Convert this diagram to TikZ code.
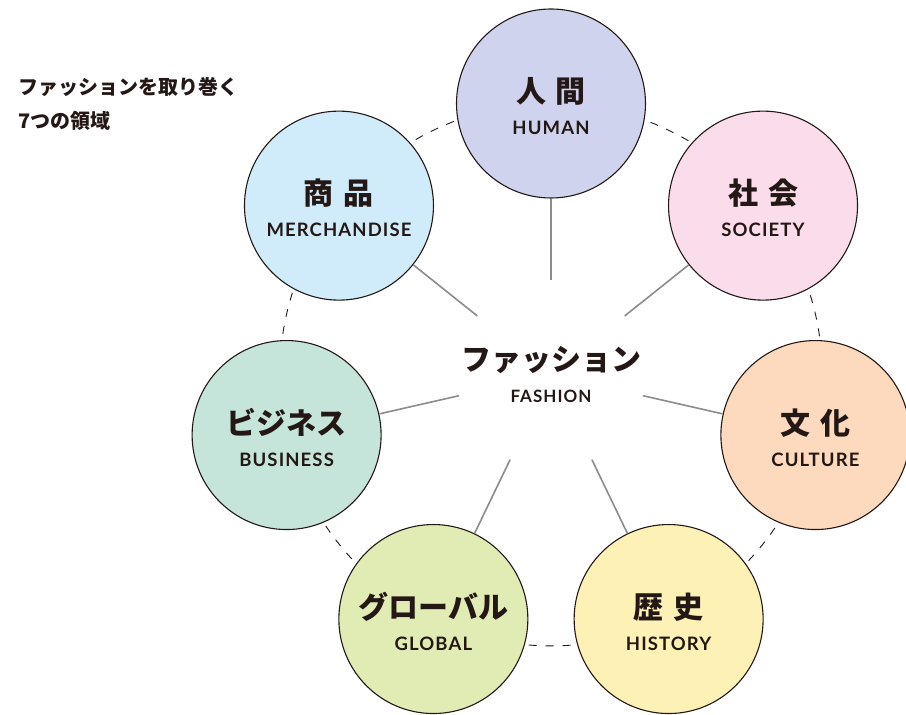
\documentclass[tikz,border=0pt]{standalone}
\usepackage{fontspec}
\newfontfamily\jpfont{Noto Sans CJK JP}
\newfontfamily\enfont{Lato}[LetterSpace=6]
\usetikzlibrary{backgrounds}

\definecolor{ink}{HTML}{231815}
\definecolor{spokegray}{HTML}{8C8C8C}
\definecolor{humanfill}{HTML}{D0D3ED}
\definecolor{societyfill}{HTML}{FBDCEA}
\definecolor{culturefill}{HTML}{FDD9BD}
\definecolor{historyfill}{HTML}{FEF1B6}
\definecolor{globalfill}{HTML}{E1ECB4}
\definecolor{businessfill}{HTML}{C6E5DA}
\definecolor{merchfill}{HTML}{D0EBFA}

\newcommand{\jptext}[1]{{\jpfont\bfseries\fontsize{30}{32}\selectfont\rule{0pt}{30.5pt}#1}}
\newcommand{\entext}[1]{{\enfont\bfseries\fontsize{18.5}{32}\selectfont #1}}

\tikzset{
  fieldcircle/.style={circle, draw=ink, line width=1.1pt, minimum size=189pt,
    inner sep=0pt, align=center, text=ink, font=\fontsize{18.5}{32}\selectfont},
  spoke/.style={draw=spokegray, line width=1.6pt},
  ring/.style={draw=ink, line width=0.9pt, dash pattern=on 8pt off 9pt},
}

\begin{document}
\begin{tikzpicture}[x=1pt, y=1pt]
    \useasboundingbox (0, 0) rectangle (906, 715);

    % Title in the corner
    \node[anchor=north west, inner sep=0pt, align=left, text=ink,
          font=\jpfont\bfseries\fontsize{20}{34.5}\selectfont] (title) at (18, 638)
        {ファッションを取り巻く\\7つの領域};

    \begin{scope}[shift={(551, 340.3)}]
        % Centre: fashion
        \node[circle, minimum size=186pt, inner sep=0pt, align=center, text=ink,
              font=\fontsize{17}{31.5}\selectfont] (fashion) at (0, 0)
            {{\jpfont\bfseries\fontsize{30}{31.5}\selectfont ファッション}\\
             {\enfont\bfseries\fontsize{17}{31.5}\selectfont FASHION}};

        % The seven fields round the ring
        \node[fieldcircle, fill=humanfill] (human) at (90:271.2)
            {\jptext{人\hspace{10pt}間}\\\entext{HUMAN}};
        \node[fieldcircle, fill=societyfill] (society) at (38.57:271.2)
            {\jptext{社\hspace{10pt}会}\\\entext{SOCIETY}};
        \node[fieldcircle, fill=culturefill] (culture) at (-12.86:271.2)
            {\jptext{文\hspace{10pt}化}\\\entext{CULTURE}};
        \node[fieldcircle, fill=historyfill] (history) at (-64.29:271.2)
            {\jptext{歴\hspace{10pt}史}\\\entext{HISTORY}};
        \node[fieldcircle, fill=globalfill] (global) at (-115.71:271.2)
            {\jptext{グローバル}\\\entext{GLOBAL}};
        \node[fieldcircle, fill=businessfill] (business) at (192.86:271.2)
            {\jptext{ビジネス}\\\entext{BUSINESS}};
        \node[fieldcircle, fill=merchfill] (merch) at (141.43:271.2)
            {\jptext{商\hspace{10pt}品}\\\entext{MERCHANDISE}};
    \end{scope}

    % Spokes from the centre
    \draw[spoke] (fashion) -- (human);
    \draw[spoke] (fashion) -- (society);
    \draw[spoke] (fashion) -- (culture);
    \draw[spoke] (fashion) -- (history);
    \draw[spoke] (fashion) -- (global);
    \draw[spoke] (fashion) -- (business);
    \draw[spoke] (fashion) -- (merch);

    % Dashed ring behind the circles
    \begin{pgfonlayer}{background}
        \draw[ring] (human.center) to[bend left=25.71, looseness=0.9] (society.center);
        \draw[ring] (society.center) to[bend left=25.71, looseness=0.9] (culture.center);
        \draw[ring] (culture.center) to[bend left=25.71, looseness=0.9] (history.center);
        \draw[ring] (history.center) to[bend left=25.71, looseness=0.9] (global.center);
        \draw[ring] (global.center) to[bend left=25.71, looseness=0.9] (business.center);
        \draw[ring] (business.center) to[bend left=25.71, looseness=0.9] (merch.center);
        \draw[ring] (merch.center) to[bend left=25.71, looseness=0.9] (human.center);
    \end{pgfonlayer}
\end{tikzpicture}
\end{document}
